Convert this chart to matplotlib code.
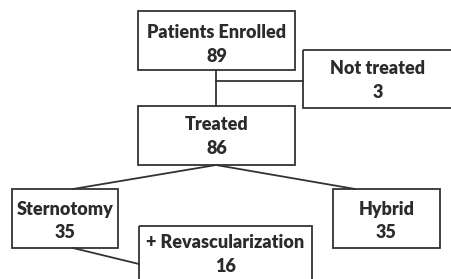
import matplotlib
matplotlib.use("Agg")
import matplotlib.pyplot as plt
from matplotlib.patches import Rectangle

# flowchart content
labels = ["Patients Enrolled", "Not treated", "Treated", "Sternotomy", "Hybrid", "+ Revascularization"]
counts = [89, 3, 86, 35, 35, 16]

# box layout in pixels: left, top, width, height, label offset, count offset
boxes = [(138, 11, 157, 59, 21, 46), (303, 50, 150, 58, 19, 43),
         (138, 106, 157, 59, 19, 43), (12, 189, 106, 59, 21, 44),
         (333, 189, 107, 59, 21, 44), (139, 226, 173, 60, 17, 41)]

fig = plt.figure(figsize=(4.51, 2.79), dpi=100)
ax = fig.add_axes([0, 0, 1, 1])
ax.set_xlim(0, 451)
ax.set_ylim(279, 0)
ax.axis("off")

ec = "#333333"
tc = "#2b2b2b"
for (x, y, w, h, d1, d2), lab, n in zip(boxes, labels, counts):
    ax.add_patch(Rectangle((x, y), w, h, fill=False, ec=ec, lw=1.3))
    ax.text(x + w / 2, y + d1, lab, ha="center", va="center",
            fontsize=13, fontweight="heavy", family="Lato", color=tc)
    ax.text(x + w / 2, y + d2, str(n), ha="center", va="center",
            fontsize=13, fontweight="heavy", family="Lato", color=tc)

# connectors
ax.plot([216, 216], [70, 106], color=ec, lw=1.3)
ax.plot([216, 303], [81, 81], color=ec, lw=1.3)
ax.plot([73, 216, 355], [189, 165, 189], color=ec, lw=1.3)
ax.plot([73, 139], [248, 264], color=ec, lw=1.3)

fig.savefig("out.png", dpi=100)
